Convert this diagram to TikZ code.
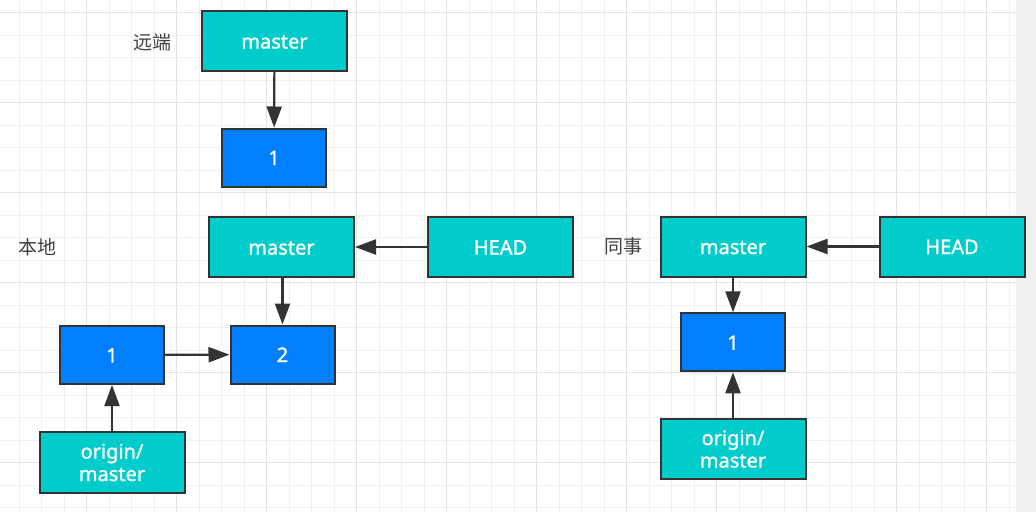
\documentclass[tikz,border=0pt]{standalone}
\usepackage{fontspec}
\setmainfont{Noto Sans}
\newfontfamily\boxfont{Noto Sans}[FakeBold=1.2]
\newfontfamily\cjk{Noto Sans CJK SC}
\usetikzlibrary{arrows.meta}
\definecolor{tealC}{HTML}{00CCCC}
\definecolor{blueC}{HTML}{007FFF}
\definecolor{lineC}{HTML}{333333}
\definecolor{gminor}{HTML}{F0F0F0}
\definecolor{gmajor}{HTML}{E3E3E3}
\definecolor{stripC}{HTML}{F0F0F0}
\definecolor{labC}{HTML}{404040}
\tikzset{
  refbox/.style={draw=lineC, line width=2pt, fill=tealC, text=white,
    minimum width=145pt, minimum height=60pt, inner sep=0pt, align=center,
    font=\boxfont\fontsize{20}{22.5}\selectfont},
  oneline/.style={text height=15pt, text depth=0pt},
  commitbox/.style={draw=lineC, line width=2pt, fill=blueC, text=white,
    minimum width=104pt, minimum height=58pt, inner sep=0pt,
    text height=15pt, text depth=0pt,
    font=\boxfont\fontsize{20}{22}\selectfont},
  area/.style={text=labC, font=\cjk\fontsize{19}{22}\selectfont, inner sep=0pt},
  link/.style={draw=lineC, line width=2.2pt, -{Triangle[length=21pt,width=15pt]}}
}
\begin{document}
\begin{tikzpicture}[x=1pt,y=-1pt]
\useasboundingbox (0,0) rectangle (1036,512);
\fill[white] (0,0) rectangle (1036,512);
\fill[stripC] (1016,0) rectangle (1036,512);
% grid
\foreach \i in {0,...,44} {\draw[gminor, line width=1.2pt] ({19.2+22.5*\i},0) -- ({19.2+22.5*\i},512);}
\foreach \j in {0,...,22} {\draw[gminor, line width=1.2pt] (0,{12.7+22.5*\j}) -- (1016,{12.7+22.5*\j});}
\foreach \i in {0,...,10} {\draw[gmajor, line width=1.2pt] ({86.7+90*\i},0) -- ({86.7+90*\i},512);}
\foreach \j in {0,...,5} {\draw[gmajor, line width=1.2pt] (0,{12.7+90*\j}) -- (1016,{12.7+90*\j});}

% remote
\node[area] (tr) at (152,42) {远端};
\node[refbox, oneline] (rm) at (274.5,41) {master};
\node[commitbox] (r1) at (274,157.5) {1};
\draw[link] (rm) -- (r1);

% local
\node[area] (tl) at (37.5,247) {本地};
\node[refbox, oneline] (lm) at (281.5,247) {master};
\node[refbox, oneline] (lh) at (500.5,247) {HEAD};
\node[commitbox] (l2) at (282.5,354.5) {2};
\node[commitbox] (l1) at (112,355) {1};
\node[refbox, minimum height=61pt] (lo) at (112,462.5) {origin/\\master};
\draw[link] (lh) -- (lm);
\draw[link] (lm.south -| l2) -- (l2.north);
\draw[link] (l1) -- (l2);
\draw[link] (lo) -- (l1);

% colleague
\node[area] (tc) at (623,246.5) {同事};
\node[refbox, oneline] (cm) at (733,246.5) {master};
\node[refbox, oneline] (ch) at (952,246.5) {HEAD};
\node[commitbox] (c1) at (733,342.3) {1};
\node[refbox] (co) at (733,449) {origin/\\master};
\draw[link] (ch) -- (cm);
\draw[link] (cm) -- (c1);
\draw[link] (co) -- (c1);
\end{tikzpicture}
\end{document}
